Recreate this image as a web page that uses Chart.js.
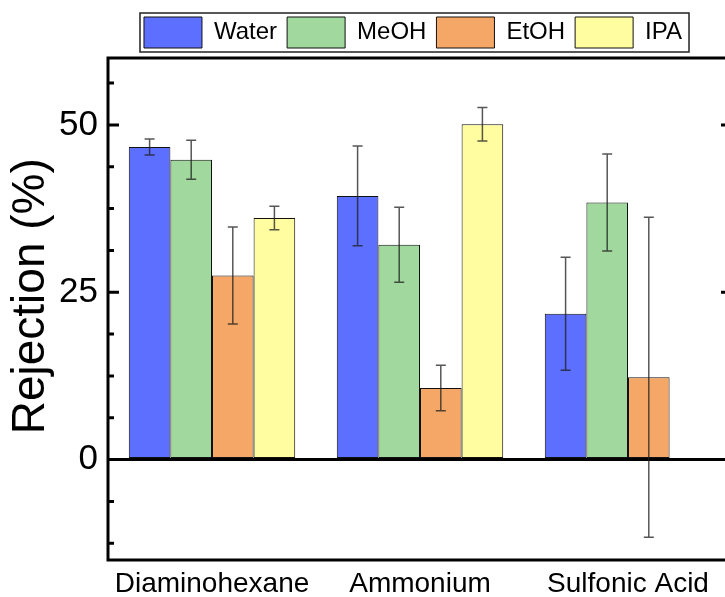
<!DOCTYPE html>
<html>
<head>
<meta charset="utf-8">
<script src="https://cdn.jsdelivr.net/npm/chart.js@4"></script>
<style>
  html, body { margin: 0; padding: 0; background: #fff; overflow: hidden; width: 725px; height: 597px; }
  canvas { display: block; }
</style>
</head>
<body>
<canvas id="chart" width="826" height="597" style="width:826px;height:597px"></canvas>
<script>
// data
const categories = ['Diaminohexane', 'Ammonium', 'Sulfonic Acid'];
const water    = [46.7, 39.4, 21.8];
const waterErr = [1.2, 7.45, 8.45];
const meoh     = [44.8, 32.1, 38.4];
const meohErr  = [2.9, 5.6, 7.25];
const etoh     = [27.5, 10.7, 12.3];
const etohErr  = [7.25, 3.4, 23.9];
const ipa      = [36.1, 50.1, null];
const ipaErr   = [1.75, 2.5, null];
const yTicks   = [0, 25, 50];
const yMin = -15, yMax = 60, minorStep = 6.25;

const FONT = "'Liberation Sans', Arial, sans-serif";

// error bars drawn on top of each bar
const errorBars = {
  id: 'errorBars',
  afterDatasetsDraw(chart) {
    const ctx = chart.ctx;
    const y = chart.scales.y;
    ctx.save();
    ctx.strokeStyle = 'rgba(30,30,30,0.75)';
    ctx.lineWidth = 1.5;
    chart.data.datasets.forEach((ds, di) => {
      const meta = chart.getDatasetMeta(di);
      meta.data.forEach((bar, i) => {
        const v = ds.data[i], e = ds.err[i];
        if (v == null || e == null) return;
        const top = y.getPixelForValue(v + e);
        const bot = y.getPixelForValue(v - e);
        ctx.beginPath();
        ctx.moveTo(bar.x, top); ctx.lineTo(bar.x, bot);
        ctx.moveTo(bar.x - 5, top); ctx.lineTo(bar.x + 5, top);
        ctx.moveTo(bar.x - 5, bot); ctx.lineTo(bar.x + 5, bot);
        ctx.stroke();
      });
    });
    ctx.restore();
  }
};

// box frame with inward ticks, and a border round the legend
const frame = {
  id: 'frame',
  afterDraw(chart) {
    const ctx = chart.ctx;
    const a = chart.chartArea;
    const y = chart.scales.y;
    ctx.save();
    ctx.strokeStyle = '#000';
    ctx.lineWidth = 3;
    ctx.strokeRect(a.left, a.top, a.right - a.left, a.bottom - a.top);
    ctx.beginPath();
    for (let v = yMin + 2.5; v < yMax; v += minorStep) {
      const py = y.getPixelForValue(v);
      const major = yTicks.includes(v);
      ctx.moveTo(a.left, py); ctx.lineTo(a.left + (major ? 11 : 6), py);
      if (major) { ctx.moveTo(a.right, py); ctx.lineTo(a.right - 11, py); }
    }
    ctx.stroke();

    const boxes = chart.legend.legendHitBoxes;
    if (boxes && boxes.length) {
      const l = Math.min(...boxes.map(b => b.left));
      const r = Math.max(...boxes.map(b => b.left + b.width));
      const t = Math.min(...boxes.map(b => b.top));
      const btm = Math.max(...boxes.map(b => b.top + b.height));
      ctx.lineWidth = 1.5;
      ctx.strokeStyle = '#222';
      ctx.strokeRect(l - 4, t - 4, r - l + 11, btm - t + 8);
    }
    ctx.restore();
  }
};

new Chart(document.getElementById('chart'), {
  type: 'bar',
  data: {
    labels: categories,
    datasets: [
      { label: 'Water', data: water, err: waterErr, backgroundColor: '#5C6FFF' },
      { label: 'MeOH',  data: meoh,  err: meohErr,  backgroundColor: '#A0D89D' },
      { label: 'EtOH',  data: etoh,  err: etohErr,  backgroundColor: '#F4A766' },
      { label: 'IPA',   data: ipa,   err: ipaErr,   backgroundColor: '#FFFDA0' }
    ].map(d => Object.assign(d, {
      borderColor: '#111', borderWidth: 1, borderSkipped: false,
      categoryPercentage: 0.8, barPercentage: 1.0
    }))
  },
  options: {
    responsive: false,
    animation: false,
    layout: { padding: { top: 7, bottom: 0 } },
    plugins: {
      legend: {
        position: 'top',
        labels: {
          boxWidth: 58, boxHeight: 31, padding: 10, color: '#000',
          font: { family: FONT, size: 24 }
        }
      },
      tooltip: { enabled: false }
    },
    scales: {
      x: {
        afterFit: s => { s.height = 37; },
        grid: { display: false, drawTicks: false },
        border: { display: false },
        ticks: { color: '#000', padding: 10, font: { family: FONT, size: 28, lineHeight: 1.0 } }
      },
      y: {
        min: yMin, max: yMax,
        afterFit: s => { s.width = 108; },
        afterBuildTicks: s => { s.ticks = yTicks.map(v => ({ value: v })); },
        grid: {
          drawTicks: false,
          color: c => (c.tick && c.tick.value === 0 ? '#000' : 'rgba(0,0,0,0)'),
          lineWidth: 3
        },
        border: { display: false },
        ticks: { color: '#000', padding: 10, font: { family: FONT, size: 35 } },
        title: {
          display: true, text: '  Rejection (%)', color: '#000',
          padding: { top: 4, bottom: 0 },
          font: { family: FONT, size: 46 }
        }
      },
      y2: {
        position: 'right',
        min: yMin, max: yMax,
        afterFit: s => { s.width = 94; },
        grid: { display: false },
        border: { display: false },
        ticks: { display: false }
      }
    }
  },
  plugins: [errorBars, frame]
});
</script>
</body>
</html>
